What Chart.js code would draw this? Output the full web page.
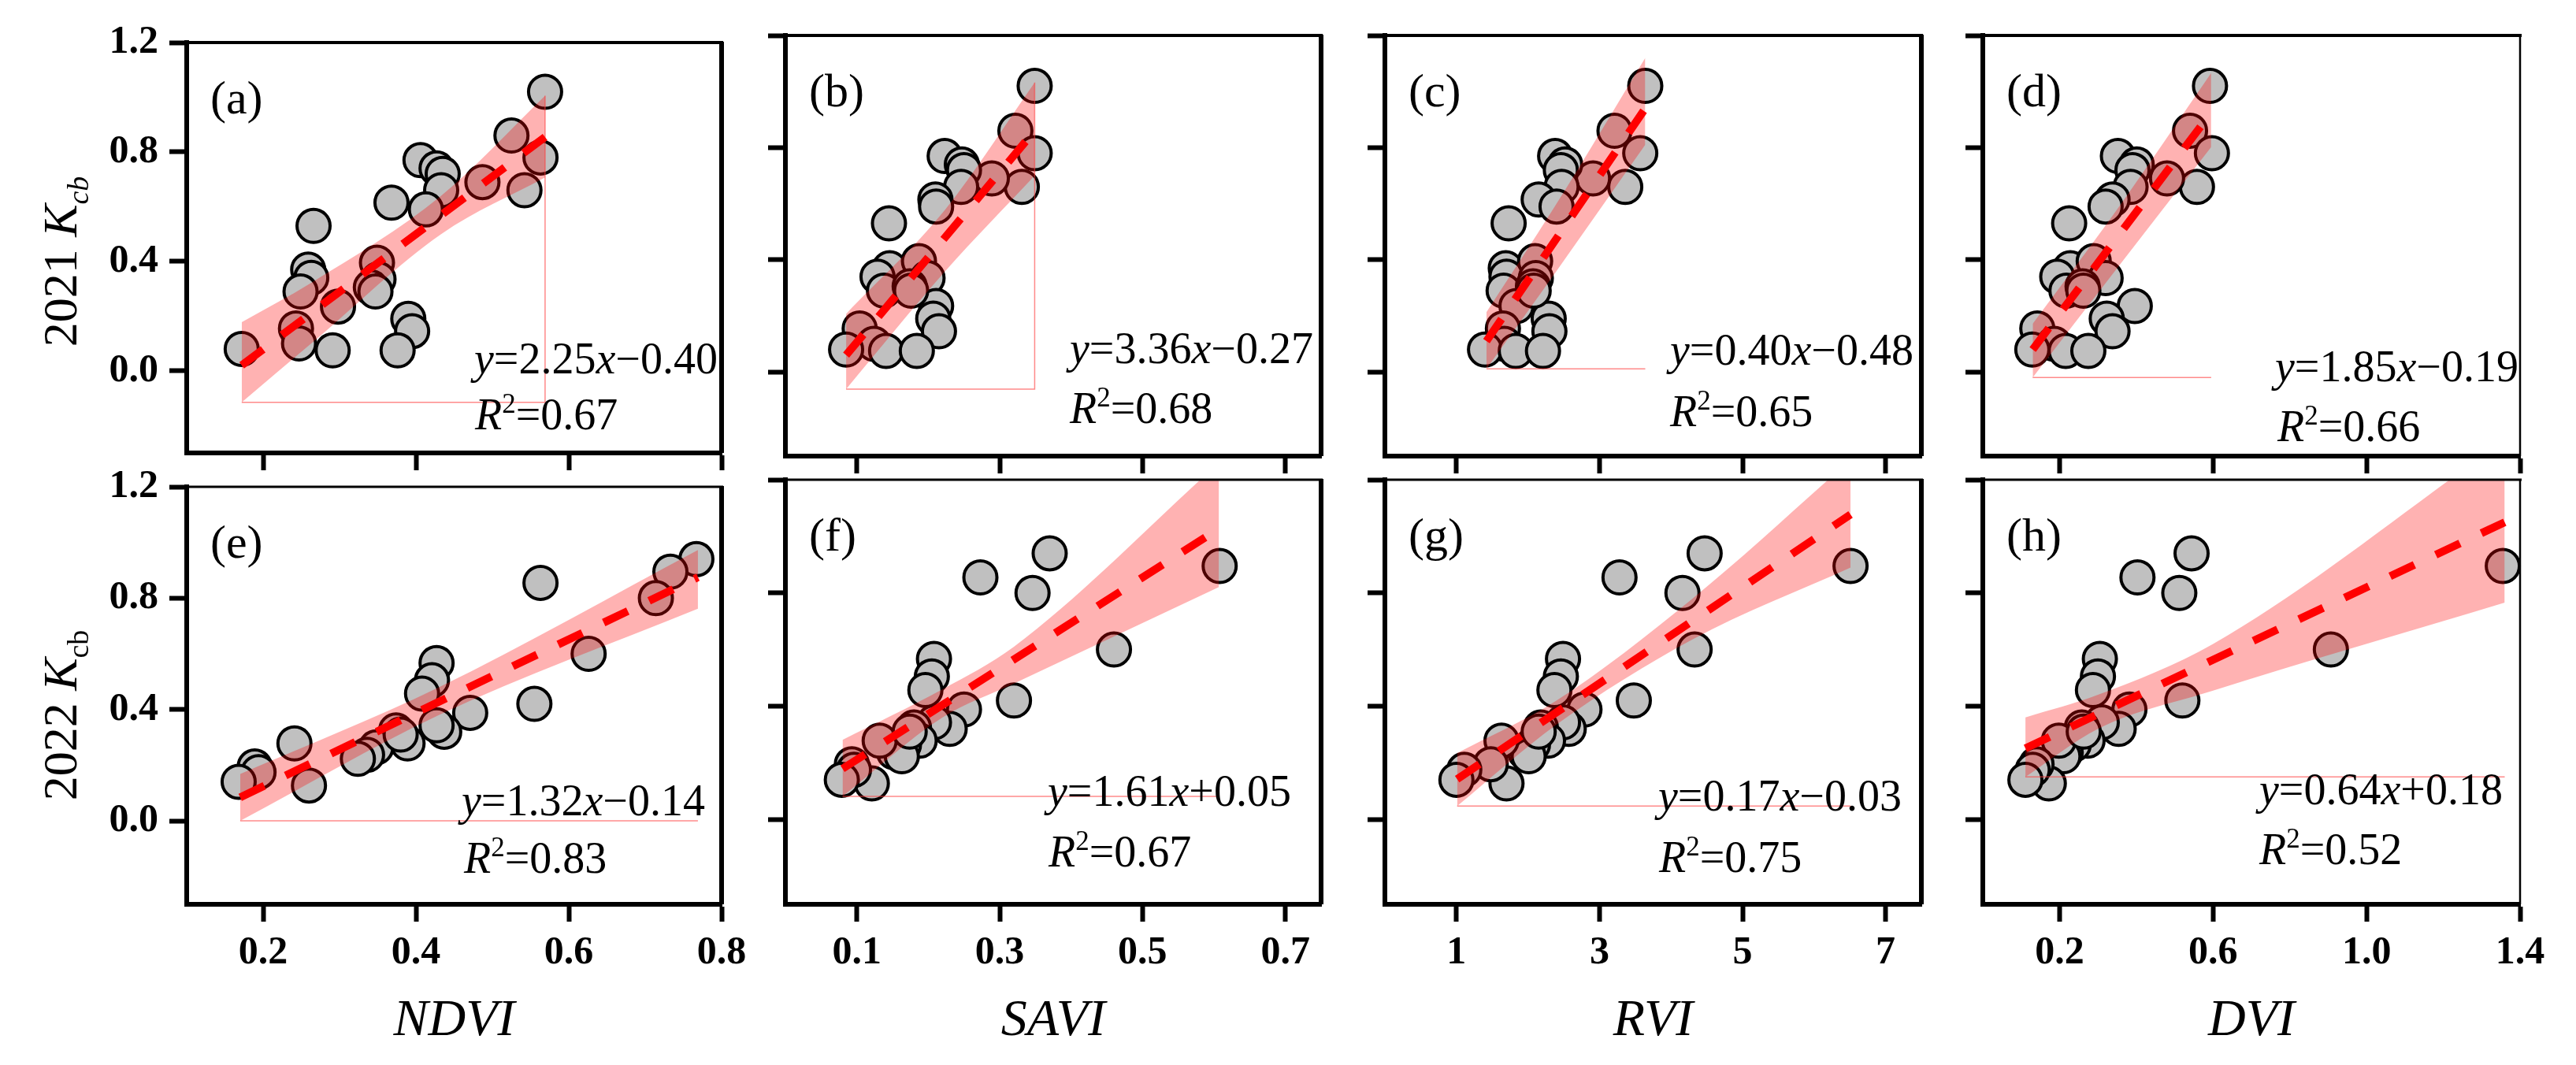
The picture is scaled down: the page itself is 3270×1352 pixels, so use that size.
<!DOCTYPE html>
<html>
<head>
<meta charset="utf-8">
<script src="https://cdn.jsdelivr.net/npm/chart.js@4.4.1/dist/chart.umd.min.js"></script>
<style>
html, body { margin: 0; padding: 0; background: #fff; }
#wrap { position: relative; width: 3270px; height: 1352px; overflow: hidden; background: #fff; }
#wrap canvas { position: absolute; }
</style>
</head>
<body>
<div id="wrap"></div>
<script>
// 2021 Kcb against the four indices (same sample order in every array)
const kcb2021  = [1.02, 0.86, 0.78, 0.66, 0.69, 0.77, 0.74, 0.72, 0.66, 0.615, 0.59, 0.53, 0.37, 0.34, 0.29, 0.395, 0.335, 0.305, 0.235, 0.19, 0.145, 0.155, 0.10, 0.08, 0.075, 0.075, 0.29]
const ndvi2021 = [0.569, 0.525, 0.563, 0.542, 0.487, 0.406, 0.427, 0.435, 0.433, 0.368, 0.413, 0.266, 0.259, 0.263, 0.249, 0.349, 0.351, 0.341, 0.298, 0.39, 0.395, 0.243, 0.247, 0.172, 0.291, 0.376, 0.347]
const savi2021 = [0.349, 0.322, 0.349, 0.331, 0.289, 0.223, 0.247, 0.25, 0.246, 0.210, 0.211, 0.145, 0.146, 0.129, 0.138, 0.187, 0.199, 0.174, 0.211, 0.207, 0.215, 0.104, 0.124, 0.085, 0.141, 0.184, 0.176]
const rvi2021  = [3.64, 3.21, 3.57, 3.36, 2.91, 2.38, 2.52, 2.46, 2.47, 2.15, 2.40, 1.73, 1.69, 1.70, 1.66, 2.10, 2.11, 2.07, 1.84, 2.29, 2.30, 1.65, 1.67, 1.40, 1.83, 2.21, 2.08]
const dvi2021  = [0.592, 0.540, 0.597, 0.558, 0.480, 0.352, 0.401, 0.39, 0.385, 0.338, 0.320, 0.225, 0.228, 0.194, 0.218, 0.289, 0.320, 0.260, 0.396, 0.323, 0.338, 0.142, 0.186, 0.129, 0.216, 0.275, 0.262]

// 2022
const kcb2022  = [0.94, 0.895, 0.80, 0.855, 0.60, 0.42, 0.567, 0.505, 0.457, 0.388, 0.32, 0.343, 0.325, 0.278, 0.264, 0.237, 0.223, 0.278, 0.127, 0.195, 0.175, 0.14, 0.31]
const ndvi2022 = [0.767, 0.733, 0.714, 0.563, 0.626, 0.555, 0.427, 0.421, 0.408, 0.471, 0.437, 0.427, 0.374, 0.389, 0.348, 0.336, 0.324, 0.241, 0.260, 0.189, 0.194, 0.168, 0.380]
const savi2022 = [0.370, 0.608, 0.346, 0.273, 0.460, 0.320, 0.208, 0.205, 0.196, 0.250, 0.230, 0.208, 0.180, 0.188, 0.166, 0.152, 0.163, 0.132, 0.121, 0.093, 0.096, 0.079, 0.174]
const rvi2022  = [4.47, 6.51, 4.16, 3.28, 4.33, 3.48, 2.49, 2.46, 2.37, 2.79, 2.57, 2.49, 2.18, 2.28, 2.07, 1.96, 2.01, 1.63, 1.70, 1.48, 1.11, 1.00, 2.15]
const dvi2022  = [0.544, 1.355, 0.512, 0.403, 0.907, 0.520, 0.305, 0.300, 0.287, 0.382, 0.354, 0.310, 0.258, 0.273, 0.237, 0.216, 0.210, 0.198, 0.172, 0.14, 0.130, 0.111, 0.263]

// confidence bands
const bandAx = [0.172, 0.263, 0.433, 0.569], bandAup = [0.178, 0.322, 0.64, 1.006], bandAlo = [-0.115, 0.10, 0.50, 0.707]
const bandBx = [0.085, 0.224, 0.349], bandBup = [0.207, 0.58, 1.032], bandBlo = [-0.061, 0.36, 0.70]
const bandCx = [1.42, 2.4, 3.64], bandCup = [0.213, 0.60, 1.12], bandClo = [0.011, 0.36, 0.81]
const bandDx = [0.13, 0.35, 0.595], bandDup = [0.172, 0.58, 1.066], bandDlo = [-0.02, 0.37, 0.802]
const bandEx = [0.17, 0.43, 0.769], bandEup = [0.168, 0.48, 0.973], bandElo = [0.0, 0.38, 0.762]
const bandFx = [0.08, 0.22, 0.32, 0.607], bandFup = [0.281, 0.46, 0.61, 1.26], bandFlo = [0.081, 0.36, 0.48, 0.821]
const bandGx = [1.01, 2.4, 4.3, 6.51], bandGup = [0.234, 0.42, 0.78, 1.27], bandGlo = [0.047, 0.335, 0.636, 0.89]
const bandHx = [0.111, 0.30, 0.6, 1.36], bandHup = [0.36, 0.44, 0.62, 1.34], bandHlo = [0.15, 0.32, 0.455, 0.766]

// fitted lines (end points)
const fitAx = [0.172, 0.569], fitAy = [0.02, 0.855]
const fitBx = [0.085, 0.349], fitBy = [0.06, 0.86]
const fitCx = [1.42, 3.64], fitCy = [0.11, 0.94]
const fitDx = [0.13, 0.595], fitDy = [0.08, 0.925]
const fitEx = [0.17, 0.769], fitEy = [0.084, 0.875]
const fitFx = [0.08, 0.607], fitFy = [0.179, 1.027]
const fitGx = [1.01, 6.51], fitGy = [0.142, 1.077]
const fitHx = [0.111, 1.36], fitHy = [0.251, 1.05]

// thin outline left by the band fill
const edgeAx = [0.569, 0.569, 0.172], edgeAy = [1.006, -0.115, -0.115]
const edgeBx = [0.349, 0.349, 0.085], edgeBy = [1.032, -0.061, -0.061]
const edgeCx = [3.64, 1.42], edgeCy = [0.011, 0.011]
const edgeDx = [0.595, 0.13], edgeDy = [-0.02, -0.02]
const edgeEx = [0.769, 0.17], edgeEy = [0.0, 0.0]
const edgeFx = [0.607, 0.08], edgeFy = [0.081, 0.081]
const edgeGx = [6.51, 1.01], edgeGy = [0.047, 0.047]
const edgeHx = [1.36, 0.111], edgeHy = [0.15, 0.15]

// ticks
const yTicks = [0, 0.4, 0.8, 1.2]
const yTickLabels = ['0.0', '0.4', '0.8', '1.2']
const ndviTicks = [0.2, 0.4, 0.6, 0.8], ndviTickLabels = ['0.2', '0.4', '0.6', '0.8']
const saviTicks = [0.1, 0.3, 0.5, 0.7], saviTickLabels = ['0.1', '0.3', '0.5', '0.7']
const rviTicks = [1, 3, 5, 7], rviTickLabels = ['1', '3', '5', '7']
const dviTicks = [0.2, 0.6, 1.0, 1.4], dviTickLabels = ['0.2', '0.6', '1.0', '1.4']

const SERIF = '"Liberation Serif", "Times New Roman", serif'

const areaLeft = [237, 997, 1758, 2517]
const areaWidth = [679, 680, 681, 682]
const areaTop = [45, 609]
const areaHeight = [534, 539]

const panels = [
    { key: 'a', col: 0, row: 0, xs: ndvi2021, ys: kcb2021, xMin: 0.1, xMax: 0.8, xTicks: ndviTicks, xLabels: ndviTickLabels,
      bx: bandAx, up: bandAup, lo: bandAlo, fx: fitAx, fy: fitAy, ex: edgeAx, ey: edgeAy, slope: '2.25', icpt: '\u22120.40', r2: '0.67', eq: [365, 420], r2at: [366, 491] },
    { key: 'b', col: 1, row: 0, xs: savi2021, ys: kcb2021, xMin: 0, xMax: 0.75, xTicks: saviTicks, xLabels: saviTickLabels,
      bx: bandBx, up: bandBup, lo: bandBlo, fx: fitBx, fy: fitBy, ex: edgeBx, ey: edgeBy, slope: '3.36', icpt: '\u22120.27', r2: '0.68', eq: [361, 416], r2at: [361, 492] },
    { key: 'c', col: 2, row: 0, xs: rvi2021, ys: kcb2021, xMin: 0, xMax: 7.5, xTicks: rviTicks, xLabels: rviTickLabels,
      bx: bandCx, up: bandCup, lo: bandClo, fx: fitCx, fy: fitCy, ex: edgeCx, ey: edgeCy, slope: '0.40', icpt: '\u22120.48', r2: '0.65', eq: [362, 418], r2at: [362, 496] },
    { key: 'd', col: 3, row: 0, xs: dvi2021, ys: kcb2021, xMin: 0, xMax: 1.4, xTicks: dviTicks, xLabels: dviTickLabels,
      bx: bandDx, up: bandDup, lo: bandDlo, fx: fitDx, fy: fitDy, ex: edgeDx, ey: edgeDy, slope: '1.85', icpt: '\u22120.19', r2: '0.66', eq: [371, 439], r2at: [374, 515] },
    { key: 'e', col: 0, row: 1, xs: ndvi2022, ys: kcb2022, xMin: 0.1, xMax: 0.8, xTicks: ndviTicks, xLabels: ndviTickLabels,
      bx: bandEx, up: bandEup, lo: bandElo, fx: fitEx, fy: fitEy, ex: edgeEx, ey: edgeEy, slope: '1.32', icpt: '\u22120.14', r2: '0.83', eq: [349, 417], r2at: [352, 490], xTitle: 'NDVI' },
    { key: 'f', col: 1, row: 1, xs: savi2022, ys: kcb2022, xMin: 0, xMax: 0.75, xTicks: saviTicks, xLabels: saviTickLabels,
      bx: bandFx, up: bandFup, lo: bandFlo, fx: fitFx, fy: fitFy, ex: edgeFx, ey: edgeFy, slope: '1.61', icpt: '+0.05', r2: '0.67', eq: [333, 414], r2at: [334, 491], xTitle: 'SAVI' },
    { key: 'g', col: 2, row: 1, xs: rvi2022, ys: kcb2022, xMin: 0, xMax: 7.5, xTicks: rviTicks, xLabels: rviTickLabels,
      bx: bandGx, up: bandGup, lo: bandGlo, fx: fitGx, fy: fitGy, ex: edgeGx, ey: edgeGy, slope: '0.17', icpt: '\u22120.03', r2: '0.75', eq: [347, 420], r2at: [348, 498], xTitle: 'RVI' },
    { key: 'h', col: 3, row: 1, xs: dvi2022, ys: kcb2022, xMin: 0, xMax: 1.4, xTicks: dviTicks, xLabels: dviTickLabels,
      bx: bandHx, up: bandHup, lo: bandHlo, fx: fitHx, fy: fitHy, ex: edgeHx, ey: edgeHy, slope: '0.64', icpt: '+0.18', r2: '0.52', eq: [351, 412], r2at: [351, 488], xTitle: 'DVI' },
]

function pts(xs, ys) {
    return xs.map((x, i) => ({ x: x, y: ys[i] }))
}

// draws a line of text made of runs (italic / superscript / subscript)
function drawRuns(ctx, runs, x, y, size, align) {
    const fontFor = r => (r.i ? 'italic ' : '') + Math.round(r.sup || r.sub ? size * 0.62 : size) + 'px ' + SERIF
    let total = 0
    runs.forEach(r => { ctx.font = fontFor(r); r.w = ctx.measureText(r.t).width; total += r.w })
    let cx = align === 'center' ? x - total / 2 : x
    ctx.fillStyle = '#000'
    ctx.textAlign = 'left'
    ctx.textBaseline = 'alphabetic'
    runs.forEach(r => {
        ctx.font = fontFor(r)
        const dy = r.sup ? -size * 0.38 : (r.sub ? size * 0.24 : 0)
        ctx.fillText(r.t, cx, y + dy)
        cx += r.w
    })
}

const panelDecor = {
    id: 'panelDecor',
    afterDraw(chart, args, opts) {
        const p = opts.panel
        const a = chart.chartArea
        const ctx = chart.ctx
        ctx.save()
        // top and right frame
        ctx.strokeStyle = '#000'
        ctx.lineWidth = p.row === 0 ? 4 : 3
        ctx.beginPath(); ctx.moveTo(a.left, a.top); ctx.lineTo(a.right + 2, a.top); ctx.stroke()
        ctx.lineWidth = p.col === 3 ? 2.5 : 6
        ctx.beginPath(); ctx.moveTo(a.right, a.top - 1); ctx.lineTo(a.right, a.bottom); ctx.stroke()

        drawRuns(ctx, [{ t: '(' + p.key + ')' }], a.left + 30, a.top + 90, 60)
        drawRuns(ctx, [{ t: 'y', i: 1 }, { t: '=' + p.slope }, { t: 'x', i: 1 }, { t: p.icpt }], a.left + p.eq[0], a.top + p.eq[1], 56)
        drawRuns(ctx, [{ t: 'R', i: 1 }, { t: '2', sup: 1 }, { t: '=' + p.r2 }], a.left + p.r2at[0], a.top + p.r2at[1], 56)

        if (p.col === 0) {
            ctx.save()
            ctx.translate(97, a.top + (p.row === 0 ? 278 : 290))
            ctx.rotate(-Math.PI / 2)
            const runs = p.row === 0
                ? [{ t: '2021 ' }, { t: 'K', i: 1 }, { t: 'cb', i: 1, sub: 1 }]
                : [{ t: '2022 ' }, { t: 'K', i: 1 }, { t: 'cb', sub: 1 }]
            drawRuns(ctx, runs, 0, 0, 62, 'center')
            ctx.restore()
        }
        if (p.xTitle) {
            drawRuns(ctx, [{ t: p.xTitle, i: 1 }], (a.left + a.right) / 2, a.bottom + 166, 66, 'center')
        }
        ctx.restore()
    }
}

const wrap = document.getElementById('wrap')

panels.forEach(p => {
    const L = areaLeft[p.col], W = areaWidth[p.col]
    const T = areaTop[p.row], H = areaHeight[p.row]
    const yW = p.col === 0 ? L : 60
    const padTop = 35, padRight = 45
    const xH = p.row === 0 ? 40 : 1352 - (T + H)

    const canvas = document.createElement('canvas')
    canvas.width = yW + W + padRight
    canvas.height = padTop + H + xH
    canvas.style.left = (L - yW) + 'px'
    canvas.style.top = (T - padTop) + 'px'
    canvas.style.width = canvas.width + 'px'
    canvas.style.height = canvas.height + 'px'
    wrap.appendChild(canvas)

    const tickFont = { family: SERIF, size: 50, weight: 'bold' }
    const gridOpts = { display: true, drawOnChartArea: false, drawTicks: true, tickLength: 22, tickWidth: 6, tickColor: '#000' }

    new Chart(canvas, {
        type: 'scatter',
        data: {
            datasets: [
                {
                    data: pts(p.xs, p.ys),
                    pointRadius: 21,
                    pointBackgroundColor: '#c0c0c0',
                    pointBorderColor: '#000',
                    pointBorderWidth: 4,
                    showLine: false,
                    clip: false,
                    order: 4,
                },
                {
                    type: 'line',
                    data: pts(p.bx, p.lo),
                    borderWidth: 0,
                    borderColor: 'rgba(0,0,0,0)',
                    pointRadius: 0,
                    fill: false,
                    cubicInterpolationMode: 'monotone',
                    clip: 0,
                    order: 3,
                },
                {
                    type: 'line',
                    data: pts(p.bx, p.up),
                    borderWidth: 0,
                    borderColor: 'rgba(0,0,0,0)',
                    backgroundColor: 'rgba(255,0,0,0.3)',
                    pointRadius: 0,
                    fill: '-1',
                    cubicInterpolationMode: 'monotone',
                    clip: 0,
                    order: 3,
                },
                {
                    type: 'line',
                    data: pts(p.ex, p.ey),
                    borderColor: 'rgba(255,60,60,0.6)',
                    borderWidth: 1.5,
                    pointRadius: 0,
                    fill: false,
                    clip: 0,
                    order: 2,
                },
                {
                    type: 'line',
                    data: pts(p.fx, p.fy),
                    borderColor: '#ff0000',
                    borderWidth: 10,
                    borderDash: [34, 30],
                    pointRadius: 0,
                    fill: false,
                    clip: 0,
                    order: 1,
                },
            ]
        },
        options: {
            responsive: false,
            animation: false,
            events: [],
            layout: { padding: { top: padTop, right: padRight, left: 0, bottom: 0 } },
            plugins: {
                legend: { display: false },
                tooltip: { enabled: false },
                panelDecor: { panel: p },
            },
            scales: {
                x: {
                    type: 'linear',
                    min: p.xMin,
                    max: p.xMax,
                    afterFit: s => { s.height = xH },
                    afterBuildTicks: s => { s.ticks = p.xTicks.map(v => ({ value: v })) },
                    ticks: {
                        display: p.row === 1,
                        autoSkip: false,
                        maxRotation: 0,
                        padding: 10,
                        font: tickFont,
                        color: '#000',
                        callback: (v, i) => p.xLabels[i],
                    },
                    grid: gridOpts,
                    border: { display: true, width: 6, color: '#000' },
                },
                y: {
                    type: 'linear',
                    min: -0.3,
                    max: 1.2,
                    afterFit: s => { s.width = yW },
                    afterBuildTicks: s => { s.ticks = yTicks.map(v => ({ value: v })) },
                    ticks: {
                        display: p.col === 0,
                        autoSkip: false,
                        padding: 14,
                        font: tickFont,
                        color: '#000',
                        callback: (v, i) => yTickLabels[i],
                    },
                    grid: gridOpts,
                    border: { display: true, width: 6, color: '#000' },
                },
            },
        },
        plugins: [panelDecor],
    })
})
</script>
</body>
</html>
